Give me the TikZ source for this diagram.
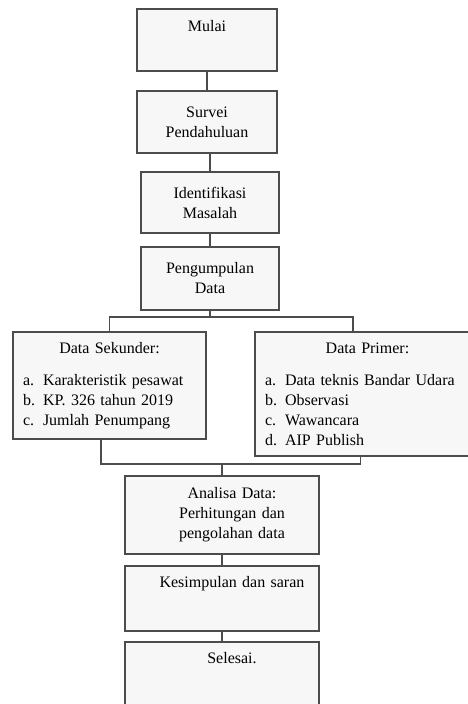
\documentclass[tikz,border=0pt]{standalone}
\usepackage{fontspec}
\setmainfont{Liberation Serif}
\newcommand{\rsh}{\hspace*{15pt}}
\newcommand{\itm}[1]{\makebox[15pt][l]{#1}}
\begin{document}
\begin{tikzpicture}[x=0.75pt,y=-0.75pt,
  box/.style={draw=black!70,line width=0.8pt,fill=black!3,inner sep=0pt,align=center,
    text=black,font=\fontsize{12}{15}\selectfont},
  flow/.style={draw=black!70,line width=0.8pt}]

\useasboundingbox (0,0) rectangle (468,704);
\clip (0,0) rectangle (468,704);

\node[box,minimum width=105pt,text height=16.5pt,text depth=30pt] (mulai) at (207,40) {Mulai};
\node[box,minimum width=105pt,minimum height=46.5pt] (survei) at (207,122) {Survei\\Pendahuluan};
\node[box,minimum width=103.5pt,minimum height=45.75pt] (identifikasi) at (210,202.5) {Identifikasi\\Masalah};
\node[box,minimum width=103.5pt,minimum height=47.25pt] (pengumpulan) at (210,278.5) {Pengumpulan\\Data};

\node[box,align=left,text width=129.75pt,inner xsep=7.5pt,minimum height=80.25pt] (sekunder) at (109.5,385.5)
  {{\centering Data Sekunder:\par}\vspace{9pt}
   \itm{a.}Karakteristik pesawat\\
   \itm{b.}KP. 326 tahun 2019\\
   \itm{c.}Jumlah Penumpang};
\node[box,align=left,text width=153.75pt,inner xsep=7.5pt,minimum height=93pt] (primer) at (367.5,394)
  {{\centering Data Primer:\par}\vspace{9pt}
   \itm{a.}Data teknis Bandar Udara\\
   \itm{b.}Observasi\\
   \itm{c.}Wawancara\\
   \itm{d.}AIP Publish};

\node[box,text width=145.5pt,inner xsep=0pt,minimum height=58.5pt] (analisa) at (222,515)
  {\rsh Analisa Data:\\\rsh Perhitungan dan\\\rsh pengolahan data};
\node[box,text width=145.5pt,inner xsep=0pt,text height=15.75pt,text depth=33pt] (kesimpulan) at (222,598.5)
  {\rsh Kesimpulan dan saran};
\node[box,text width=145.5pt,inner xsep=0pt,text height=15.75pt,text depth=44.25pt] (selesai) at (222,682)
  {\rsh Selesai.};

\coordinate (split) at (210,317);
\coordinate (merge) at (222,464);

\draw[flow] (mulai) -- (survei);
\draw[flow] (identifikasi.north) -- (identifikasi.north |- survei.south);
\draw[flow] (identifikasi) -- (pengumpulan);
\draw[flow] (pengumpulan) -- (split);
\draw[flow] (sekunder.north) |- (split) -| ([xshift=-10.9pt]primer.north);
\draw[flow] ([xshift=-6.4pt]sekunder.south) |- (merge) -| ([xshift=-5.6pt]primer.south);
\draw[flow] (merge) -- (analisa);
\draw[flow] (analisa) -- (kesimpulan);
\draw[flow] (kesimpulan) -- (selesai);

\end{tikzpicture}
\end{document}
